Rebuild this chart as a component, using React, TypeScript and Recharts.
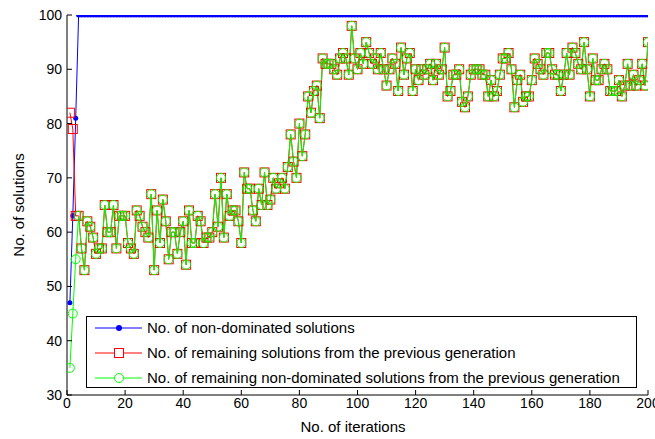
import { LineChart, Line, XAxis, YAxis, Legend } from 'recharts';

// x positions: iteration index 1..200
const iterations = Array.from({ length: 200 }, (_, i) => i + 1);

const nonDominated = [
  47, 63, 81, 100, 100, 100, 100, 100, 100, 100, 100, 100, 100, 100, 100, 100, 100, 100, 100, 100,
  100, 100, 100, 100, 100, 100, 100, 100, 100, 100, 100, 100, 100, 100, 100, 100, 100, 100, 100, 100,
  100, 100, 100, 100, 100, 100, 100, 100, 100, 100, 100, 100, 100, 100, 100, 100, 100, 100, 100, 100,
  100, 100, 100, 100, 100, 100, 100, 100, 100, 100, 100, 100, 100, 100, 100, 100, 100, 100, 100, 100,
  100, 100, 100, 100, 100, 100, 100, 100, 100, 100, 100, 100, 100, 100, 100, 100, 100, 100, 100, 100,
  100, 100, 100, 100, 100, 100, 100, 100, 100, 100, 100, 100, 100, 100, 100, 100, 100, 100, 100, 100,
  100, 100, 100, 100, 100, 100, 100, 100, 100, 100, 100, 100, 100, 100, 100, 100, 100, 100, 100, 100,
  100, 100, 100, 100, 100, 100, 100, 100, 100, 100, 100, 100, 100, 100, 100, 100, 100, 100, 100, 100,
  100, 100, 100, 100, 100, 100, 100, 100, 100, 100, 100, 100, 100, 100, 100, 100, 100, 100, 100, 100,
  100, 100, 100, 100, 100, 100, 100, 100, 100, 100, 100, 100, 100, 100, 100, 100, 100, 100, 100, 100,
];

const remaining = [
  82, 79, 63, 63, 57, 53, 62, 61, 59, 56, 57, 57, 65, 60, 60, 65, 57, 63, 63, 63,
  58, 57, 56, 64, 63, 61, 60, 59, 67, 53, 64, 58, 66, 62, 55, 60, 60, 56, 60, 62,
  54, 64, 58, 58, 63, 62, 58, 59, 59, 60, 67, 61, 70, 59, 67, 63, 64, 64, 62, 58,
  71, 68, 68, 64, 62, 68, 65, 71, 65, 66, 70, 68, 69, 70, 68, 72, 78, 73, 70, 80,
  74, 78, 85, 82, 86, 87, 81, 92, 91, 91, 91, 90, 89, 92, 93, 92, 89, 98, 92, 90,
  93, 91, 95, 93, 91, 92, 90, 93, 90, 87, 90, 92, 91, 86, 94, 89, 92, 93, 86, 90,
  88, 90, 89, 90, 91, 88, 91, 89, 90, 94, 85, 86, 89, 89, 90, 84, 83, 85, 89, 90,
  90, 90, 89, 89, 85, 88, 85, 86, 89, 92, 92, 93, 90, 83, 88, 89, 84, 85, 85, 88,
  92, 91, 90, 89, 93, 93, 90, 89, 89, 86, 89, 93, 89, 94, 93, 91, 90, 95, 90, 85,
  92, 88, 88, 90, 91, 90, 86, 86, 86, 88, 85, 87, 91, 87, 89, 87, 88, 91, 87, 95,
];

const remainingNonDominated = [
  35, 45, 55, 63, 57, 53, 62, 61, 59, 56, 57, 57, 65, 60, 60, 65, 57, 63, 63, 63,
  58, 57, 56, 64, 63, 61, 60, 59, 67, 53, 64, 58, 66, 62, 55, 60, 60, 56, 60, 62,
  54, 64, 58, 58, 63, 62, 58, 59, 59, 60, 67, 61, 70, 59, 67, 63, 64, 64, 62, 58,
  71, 68, 68, 64, 62, 68, 65, 71, 65, 66, 70, 68, 69, 70, 68, 72, 78, 73, 70, 80,
  74, 78, 85, 82, 86, 87, 81, 92, 91, 91, 91, 90, 89, 92, 93, 92, 89, 98, 92, 90,
  93, 91, 95, 93, 91, 92, 90, 93, 90, 87, 90, 92, 91, 86, 94, 89, 92, 93, 86, 90,
  88, 90, 89, 90, 91, 88, 91, 89, 90, 94, 85, 86, 89, 89, 90, 84, 83, 85, 89, 90,
  90, 90, 89, 89, 85, 88, 85, 86, 89, 92, 92, 93, 90, 83, 88, 89, 84, 85, 85, 88,
  92, 91, 90, 89, 93, 93, 90, 89, 89, 86, 89, 93, 89, 94, 93, 91, 90, 95, 90, 85,
  92, 88, 88, 90, 91, 90, 86, 86, 86, 88, 85, 87, 91, 87, 89, 87, 88, 91, 87, 95,
];

const xTicks = [0, 20, 40, 60, 80, 100, 120, 140, 160, 180, 200];
const yTicks = [30, 40, 50, 60, 70, 80, 90, 100];

const seriesNames = [
  'No. of non-dominated solutions',
  'No. of remaining solutions from the previous generation',
  'No. of remaining non-dominated solutions from the previous generation',
];
const seriesColors = ['#0000ff', '#ff0000', '#00ff00'];

const data = iterations.map((it, i) => ({
  it,
  nd: nonDominated[i],
  rem: remaining[i],
  rnd: remainingNonDominated[i],
}));

const FONT = '"Liberation Sans", Arial, sans-serif';

const SquareDot = (props: any) => {
  const { cx, cy, index } = props;
  if (cx == null || cy == null) return null;
  return (
    <rect key={`sq-${index}`} x={cx - 4.5} y={cy - 4.5} width={9} height={9}
      fill="none" stroke="#ff0000" strokeWidth={1} />
  );
};

const CircleDot = (props: any) => {
  const { cx, cy, index } = props;
  if (cx == null || cy == null) return null;
  return (
    <circle key={`ci-${index}`} cx={cx} cy={cy} r={4.5}
      fill="none" stroke="#00ff00" strokeWidth={1} />
  );
};

// legend drawn in series order, boxed like the MATLAB one
const LegendBox = () => (
  <svg width={551} height={72} style={{ display: 'block', fontFamily: FONT }}>
    <rect x={0.5} y={0.5} width={550} height={71} fill="#fff" stroke="#000" />
    {seriesNames.map((name, i) => {
      const cy = 12 + i * 25;
      const color = seriesColors[i];
      return (
        <g key={name}>
          <line x1={9} x2={56} y1={cy} y2={cy} stroke={color} />
          {i === 0 && <circle cx={33} cy={cy} r={3} fill={color} />}
          {i === 1 && <rect x={28.5} y={cy - 4.5} width={9} height={9} fill="#fff" stroke={color} />}
          {i === 2 && <circle cx={33} cy={cy} r={4.5} fill="#fff" stroke={color} />}
          <text x={61} y={cy + 5} fontSize={15} fill="#000">{name}</text>
        </g>
      );
    })}
  </svg>
);

export default function App() {
  return (
    <div style={{ position: 'absolute', left: 0, top: 0, width: 655, height: 439, background: '#fff', fontFamily: FONT }}>
      <LineChart width={655} height={439} data={data} margin={{ top: 15, right: 7, left: 0, bottom: 0 }}>
        <XAxis dataKey="it" type="number" domain={[0, 200]} ticks={xTicks} interval={0}
          allowDataOverflow height={44} stroke="#000" tickSize={-5} tickMargin={8}
          tick={{ fill: '#000', fontSize: 14, fontFamily: FONT }}
          label={{
            content: () => (
              <text x={353} y={432} textAnchor="middle" fontSize={15} fontFamily={FONT} fill="#000">No. of iterations</text>
            ),
          }} />
        <XAxis xAxisId="top" dataKey="it" orientation="top" type="number" domain={[0, 200]} ticks={xTicks}
          interval={0} allowDataOverflow height={0} stroke="#000" tickSize={-5} tick={false} />
        <YAxis type="number" domain={[30, 100]} ticks={yTicks} interval={0} allowDataOverflow width={67}
          stroke="#000" tickSize={-5} tickMargin={10}
          tick={{ fill: '#000', fontSize: 14, fontFamily: FONT }}
          label={{
            content: () => (
              <text x={20} y={205} transform="rotate(-90 20 205)" textAnchor="middle" dominantBaseline="middle"
                fontSize={15} fontFamily={FONT} fill="#000">No. of solutions</text>
            ),
          }} />
        <YAxis yAxisId="right" orientation="right" type="number" domain={[30, 100]} ticks={yTicks} interval={0}
          allowDataOverflow width={0} stroke="#000" tickSize={-5} tick={false} />
        <Line dataKey="nd" name={seriesNames[0]} stroke="#0000ff" strokeWidth={1}
          dot={{ r: 2.5, fill: '#0000ff', stroke: '#0000ff', strokeWidth: 0 }} isAnimationActive={false} />
        <Line dataKey="rem" name={seriesNames[1]} stroke="#ff0000" strokeWidth={1}
          dot={SquareDot} isAnimationActive={false} />
        <Line dataKey="rnd" name={seriesNames[2]} stroke="#00ff00" strokeWidth={1}
          dot={CircleDot} isAnimationActive={false} />
        <Legend layout="horizontal" verticalAlign="middle" align="center"
          wrapperStyle={{ left: 86, top: 316, width: 551, height: 72 }}
          content={() => <LegendBox />} />
      </LineChart>
    </div>
  );
}
